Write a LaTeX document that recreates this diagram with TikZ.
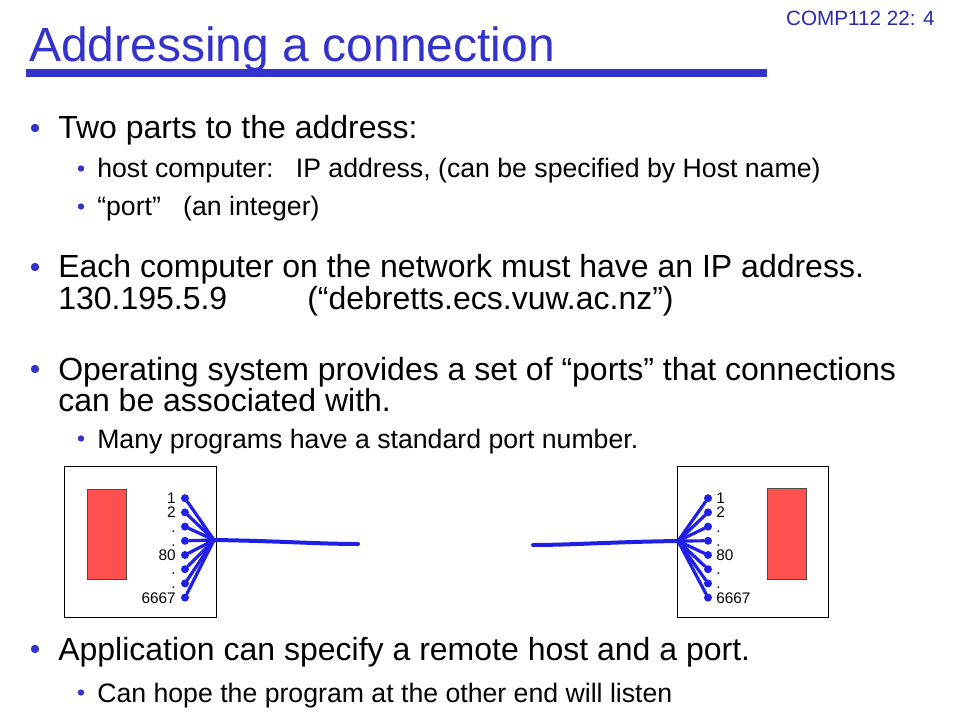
\documentclass[tikz,border=0pt]{standalone}
\usepackage{fontspec}
\setmainfont{Liberation Sans}
\definecolor{slideblue}{HTML}{3333CC}
\definecolor{wireblue}{HTML}{1F1FE8}
\definecolor{appred}{HTML}{FF5050}
\begin{document}
\begin{tikzpicture}[x=.75pt,y=-.75pt,
txt/.style={anchor=base west,inner sep=0,font=\fontsize{24}{29}\selectfont},
subtxt/.style={anchor=base west,inner sep=0,font=\fontsize{20}{24}\selectfont},
bul/.style={circle,fill=slideblue,inner sep=0,minimum size=6.3pt},
subbul/.style={circle,fill=slideblue,inner sep=0,minimum size=4.8pt},
port/.style={circle,fill=wireblue,inner sep=0,minimum size=6pt},
plabel/.style={inner sep=0,font=\fontsize{11.5}{14}\selectfont},
wire/.style={wireblue,line width=2.4pt,line cap=round},
host/.style={draw,line width=.75pt},
app/.style={draw=black!70,fill=appred,line width=.6pt}]
\useasboundingbox[fill=white](0,0)rectangle(960,720);
\node[anchor=base west,inner sep=0,text=slideblue,font=\fontsize{36}{43}\selectfont](title)at(29,62){Addressing a connection};
\fill[slideblue](26,69)rectangle(767,77);
\node[anchor=base east,inner sep=0,text=slideblue!85!black,font=\fontsize{15.5}{18}\selectfont](slide)at(935,26){COMP112 22: 4};
\foreach \y in {128,267,369,649}\node[bul](b\y)at(35,\y){};
\foreach \y in {168.5,206.5,438.5,692.5}\node[subbul](s\y)at(81,\y){};
\node[txt](parts)at(58,139){Two parts to the address:};
\node[subtxt](hostline)at(97,178){host computer:~~~IP address, (can be specified by Host name)};
\node[subtxt](portline)at(97,216){“port”~~~(an integer)};
\node[txt](each)at(58,278){Each computer on the network must have an IP address.};
\node[txt](ipaddr)at(58,310){130.195.5.9\hspace{60pt}(“debretts.ecs.vuw.ac.nz”)};
\node[txt](os)at(58,380){Operating system provides a set of “ports” that connections};
\node[txt](os2)at(58,411){can be associated with.};
\node[subtxt](many)at(97,448){Many programs have a standard port number.};
\node[txt](appl)at(58,660){Application can specify a remote host and a port.};
\node[subtxt](hope)at(97,702){Can hope the program at the other end will listen};
\draw[host](64,466)rectangle(216,617);
\draw[app](87,489)rectangle(126,579);
\draw[host](677,466)rectangle(828,617);
\draw[app](767,488)rectangle(806,579);
\coordinate(hubL)at(214,540);
\coordinate(endL)at(358,544);
\coordinate(hubR)at(678,541);
\coordinate(endR)at(533,545);
\foreach \i/\t in {1/1,2/2,3/.,4/.,5/80,6/.,7/.,8/6667}{
\node[port](pl\i)at(185,484+14.2*\i){};
\node[plabel,anchor=base east](ll\i)at(176,489.5+14.2*\i){\t};
\node[port](pr\i)at(708,484+14.2*\i){};
\node[plabel,anchor=base west](lr\i)at(716,489.5+14.2*\i){\t};
\draw[wire](pl\i)--(hubL);
\draw[wire](pr\i)--(hubR);
}
\draw[wire,line width=3pt](hubL)..controls(280,541)and(320,544)..(endL);
\draw[wire,line width=3pt](hubR)..controls(610,542)and(570,545)..(endR);
\end{tikzpicture}
\end{document}
